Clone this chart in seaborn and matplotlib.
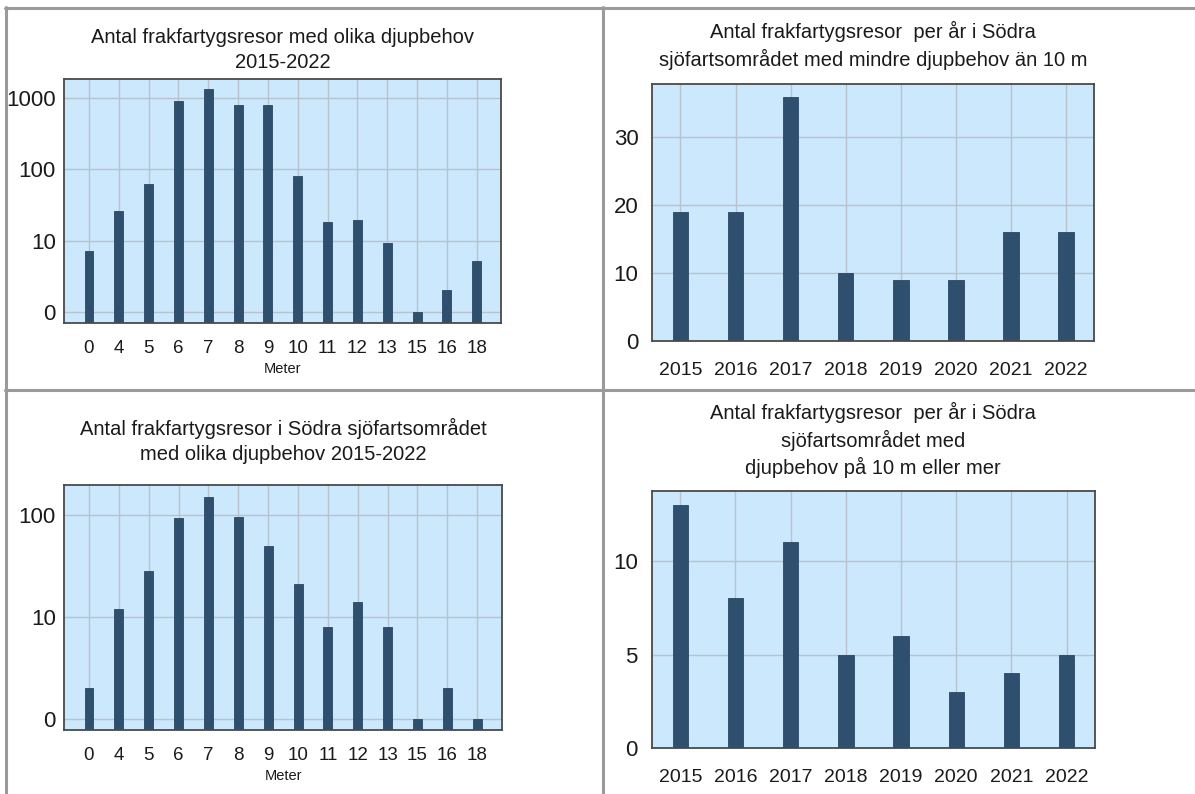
import matplotlib
matplotlib.use("Agg")
import matplotlib.pyplot as plt
from matplotlib.lines import Line2D
from matplotlib.ticker import FixedLocator, NullLocator
import seaborn as sns
import pandas as pd

# ---- data ----
meter_cats = ["0", "4", "5", "6", "7", "8", "9", "10", "11", "12", "13", "15", "16", "18"]
all_counts = [7.2, 26, 63, 930, 1370, 800, 800, 82, 18.5, 19.5, 9.2, 1, 2, 5.1]
sodra_counts = [2, 12, 28, 93, 150, 96, 49, 21, 8, 14, 8, 1, 2, 1]
years = ["2015", "2016", "2017", "2018", "2019", "2020", "2021", "2022"]
small_depth = [19, 19, 36, 10, 9, 9, 16, 16]
large_depth = [13, 8, 11, 5, 6, 3, 4, 5]

titles = [
    "Antal frakfartygsresor med olika djupbehov\n2015-2022",
    "Antal frakfartygsresor  per år i Södra\nsjöfartsområdet med mindre djupbehov än 10 m",
    "Antal frakfartygsresor i Södra sjöfartsområdet\nmed olika djupbehov 2015-2022",
    "Antal frakfartygsresor  per år i Södra\nsjöfartsområdet med\ndjupbehov på 10 m eller mer",
]

sns.set_theme(style="white")
plt.rcParams["font.family"] = ["Liberation Sans", "DejaVu Sans"]

BG = "#cce8fc"
BAR = "#2f4f6f"
GRID = "#b8c2cc"
TXT = "#1a1a1a"

W, H = 1195, 794
fig = plt.figure(figsize=(W / 100, H / 100), dpi=100)
fig.patch.set_facecolor("white")


def rect(l, t, r, b):
    return [l / W, 1 - b / H, (r - l) / W, (b - t) / H]


ax1 = fig.add_axes(rect(64, 79, 501, 323))
ax2 = fig.add_axes(rect(652.3, 84.3, 1094.3, 340.7))
ax3 = fig.add_axes(rect(64, 485.3, 502, 730))
ax4 = fig.add_axes(rect(651.7, 491, 1095, 748.3))


def style(ax):
    ax.set_facecolor(BG)
    ax.set_axisbelow(True)
    ax.grid(True, color=GRID, lw=1.0)
    for s in ax.spines.values():
        s.set_visible(True)
        s.set_color("#4a4a4a")
        s.set_linewidth(1.3)
    ax.tick_params(axis="both", length=0, colors=TXT)
    ax.set_ylabel("")


bar_kw = dict(color=BAR, saturation=1, edgecolor="#2a4763", linewidth=0.6)

# top-left (log)
df1 = pd.DataFrame({"m": meter_cats, "v": all_counts})
sns.barplot(data=df1, x="m", y="v", order=meter_cats, width=0.3, ax=ax1, **bar_kw)
ax1.set_yscale("log")
ax1.set_ylim(0.693, 1870)
ax1.set_xlim(-0.838, 13.815)
ax1.yaxis.set_major_locator(FixedLocator([1, 10, 100, 1000]))
ax1.yaxis.set_minor_locator(NullLocator())
ax1.set_yticklabels(["0", "10", "100", "1000"])
style(ax1)
ax1.set_xlabel("Meter", fontsize=10.5, color=TXT, labelpad=4)

# bottom-left (log)
df3 = pd.DataFrame({"m": meter_cats, "v": sodra_counts})
sns.barplot(data=df3, x="m", y="v", order=meter_cats, width=0.3, ax=ax3, **bar_kw)
ax3.set_yscale("log")
ax3.set_ylim(0.78, 194)
ax3.set_xlim(-0.837, 13.83)
ax3.yaxis.set_major_locator(FixedLocator([1, 10, 100]))
ax3.yaxis.set_minor_locator(NullLocator())
ax3.set_yticklabels(["0", "10", "100"])
style(ax3)
ax3.set_xlabel("Meter", fontsize=10.5, color=TXT, labelpad=4)

# top-right
df2 = pd.DataFrame({"y": years, "v": small_depth})
sns.barplot(data=df2, x="y", y="v", order=years, width=0.28, ax=ax2, **bar_kw)
ax2.set_ylim(0, 37.8)
ax2.set_xlim(-0.51, 7.51)
ax2.set_yticks([0, 10, 20, 30])
style(ax2)
ax2.set_xlabel("")

# bottom-right
df4 = pd.DataFrame({"y": years, "v": large_depth})
sns.barplot(data=df4, x="y", y="v", order=years, width=0.28, ax=ax4, **bar_kw)
ax4.set_ylim(0, 13.73)
ax4.set_xlim(-0.518, 7.514)
ax4.set_yticks([0, 5, 10])
style(ax4)
ax4.set_xlabel("")

for ax in (ax1, ax3):
    ax.tick_params(axis="y", labelsize=16, pad=6)
    ax.tick_params(axis="x", labelsize=13.5, pad=12)
for ax in (ax2, ax4):
    ax.tick_params(axis="y", labelsize=16, pad=10)
    ax.tick_params(axis="x", labelsize=14, pad=15)

pads = [8, 13.5, 18.5, 12]
for ax, t, p in zip((ax1, ax2, ax3, ax4), titles, pads):
    ax.set_title(t, fontsize=14.5, color=TXT, pad=p, linespacing=1.38)

# panel border lines
lc = "#9a9a9a"
lw = 2.2
fig.add_artist(Line2D([5 / W, 1], [1 - 8 / H, 1 - 8 / H], color=lc, lw=lw, transform=fig.transFigure))
fig.add_artist(Line2D([6 / W, 6 / W], [0, 1 - 7 / H], color=lc, lw=lw, transform=fig.transFigure))
fig.add_artist(Line2D([602.8 / W, 602.8 / W], [0, 1 - 7 / H], color=lc, lw=lw, transform=fig.transFigure))
fig.add_artist(Line2D([5 / W, 1], [1 - 389.5 / H, 1 - 389.5 / H], color=lc, lw=lw, transform=fig.transFigure))

fig.savefig("out.png", dpi=100, facecolor="white")
